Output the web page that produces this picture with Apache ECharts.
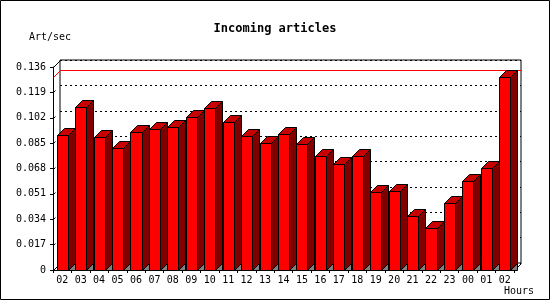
<!DOCTYPE html>
<html>
<head>
<meta charset="utf-8">
<script src="https://cdn.jsdelivr.net/npm/echarts@6/dist/echarts.min.js"></script>
<style>
html, body { margin: 0; padding: 0; background: #fff; }
#chart { width: 550px; height: 300px; }
</style>
</head>
<body>
<div id="chart"></div>
<script>
var hours = ['02', '03', '04', '05', '06', '07', '08', '09', '10', '11', '12', '13', '14',
             '15', '16', '17', '18', '19', '20', '21', '22', '23', '00', '01', '02'];
var artPerSec = [0.0902, 0.1090, 0.0889, 0.0815, 0.0922, 0.0943, 0.0956, 0.1023, 0.1083, 0.0989,
                 0.0896, 0.0849, 0.0909, 0.0842, 0.0762, 0.0708, 0.0762, 0.0520, 0.0527, 0.0360,
                 0.0279, 0.0447, 0.0594, 0.0683, 0.1295];
var yTicks = [0, 0.017, 0.034, 0.051, 0.068, 0.085, 0.102, 0.119, 0.136];

var FONT = '"DejaVu Sans Mono", "Liberation Mono", monospace';
var DEPTH = 7;

var myChart = echarts.init(document.getElementById('chart'));

var maxVal = Math.max.apply(null, artPerSec);

function px(v) { return Math.round(v) + 0.5; }

function renderBar(params, api) {
    var i = api.value(0), v = api.value(1);
    var top = api.coord([i, v]), base = api.coord([i, 0]);
    var w = api.size([1, 0])[0] * 0.6, d = DEPTH;
    var l = px(top[0] - w / 2), r = px(top[0] + w / 2), t = px(top[1]), b = px(base[1]);
    var line = { stroke: '#000', lineWidth: 1 };
    return {
        type: 'group',
        children: [
            { type: 'polygon', shape: { points: [[r, b], [r + d, b - d], [r + d, b]] },
              style: { fill: '#808080', stroke: '#000', lineWidth: 1 } },
            { type: 'polygon', shape: { points: [[r, t], [r + d, t - d], [r + d, b - d], [r, b]] },
              style: Object.assign({ fill: '#800000' }, line) },
            { type: 'polygon', shape: { points: [[l, t], [l + d, t - d], [r + d, t - d], [r, t]] },
              style: Object.assign({ fill: '#c80000' }, line) },
            { type: 'rect', shape: { x: l, y: t, width: r - l, height: b - t },
              style: Object.assign({ fill: '#ff0000' }, line) }
        ]
    };
}

// little slanted ticks on the front y axis, the long one at the top
function renderTick(params, api) {
    var cs = params.coordSys;
    var y = px(api.coord([0, api.value(1)])[1]);
    var x = px(cs.x);
    var len = api.value(1) === yTicks[yTicks.length - 1] ? DEPTH : 2;
    return { type: 'line', shape: { x1: x, y1: y, x2: x + len, y2: y - len },
             style: { stroke: '#000', lineWidth: 1 } };
}

// red line at the max value, drawn on the back wall, plus floor edges
function renderMax(params, api) {
    var cs = params.coordSys, d = DEPTH;
    var y = px(api.coord([0, api.value(1)])[1]);
    var xl = px(cs.x), xr = px(cs.x + cs.width), yb = px(cs.y + cs.height);
    return {
        type: 'group',
        children: [
            { type: 'polyline', shape: { points: [[xl, y], [xl + d, y - d], [xr + d, y - d]] },
              style: { stroke: '#ff0000', lineWidth: 1, fill: null } },
            { type: 'line', shape: { x1: xr, y1: yb, x2: xr + d, y2: yb - d },
              style: { stroke: '#000', lineWidth: 1 } },
            { type: 'line', shape: { x1: xl, y1: yb, x2: xl + d, y2: yb - d },
              style: { stroke: '#000', lineWidth: 1 } }
        ]
    };
}

var option = {
    backgroundColor: '#fff',
    animation: false,
    title: {
        text: 'Incoming articles',
        left: 'center',
        top: 18,
        textStyle: { fontFamily: FONT, fontSize: 12, fontWeight: 'bold', color: '#000' }
    },
    graphic: [
        { type: 'rect', shape: { x: 0.5, y: 0.5, width: 549, height: 299 },
          style: { fill: null, stroke: '#000', lineWidth: 1 }, z: 100 },
        { type: 'text', left: 29, top: 32,
          style: { text: 'Art/sec', font: '10px ' + FONT, fill: '#000' } },
        { type: 'text', left: 504, top: 286,
          style: { text: 'Hours', font: '10px ' + FONT, fill: '#000' } }
    ],
    grid: [
        { left: 53, right: 36, top: 67, bottom: 30 },
        { left: 60, right: 29, top: 60, bottom: 37, show: true, borderColor: '#000', borderWidth: 1 }
    ],
    xAxis: [
        {
            gridIndex: 0,
            type: 'category',
            data: hours,
            axisLine: { lineStyle: { color: '#000', width: 1 } },
            axisTick: { show: true, length: 3, lineStyle: { color: '#000' } },
            axisLabel: { fontFamily: FONT, fontSize: 10, color: '#000', margin: 5, interval: 0 }
        },
        {
            gridIndex: 1,
            type: 'category',
            data: hours,
            show: false
        }
    ],
    yAxis: [
        {
            gridIndex: 0,
            type: 'value',
            min: 0,
            max: 0.136,
            interval: 0.017,
            axisLine: { show: true, lineStyle: { color: '#000', width: 1 } },
            axisTick: { show: true, length: 3, lineStyle: { color: '#000' } },
            splitLine: { show: false },
            axisLabel: {
                fontFamily: FONT, fontSize: 10, color: '#000', margin: 7,
                formatter: function(v) { return v === 0 ? '0' : v.toFixed(3); }
            }
        },
        {
            gridIndex: 1,
            type: 'value',
            min: 0,
            max: 0.136,
            interval: 0.017,
            axisLine: { show: false },
            axisTick: { show: false },
            axisLabel: { show: false },
            splitLine: { show: true, lineStyle: { color: '#000', type: [2, 3], width: 1 } }
        }
    ],
    series: [
        {
            type: 'custom',
            name: 'max',
            xAxisIndex: 0,
            yAxisIndex: 0,
            z: 1,
            renderItem: renderMax,
            data: [[0, maxVal]]
        },
        {
            type: 'custom',
            name: 'ticks',
            xAxisIndex: 0,
            yAxisIndex: 0,
            z: 1,
            renderItem: renderTick,
            data: yTicks.map(function(t) { return [0, t]; })
        },
        {
            type: 'custom',
            name: 'Art/sec',
            xAxisIndex: 0,
            yAxisIndex: 0,
            z: 3,
            renderItem: renderBar,
            data: artPerSec.map(function(v, i) { return [i, v]; })
        }
    ]
};

myChart.setOption(option);
</script>
</body>
</html>
